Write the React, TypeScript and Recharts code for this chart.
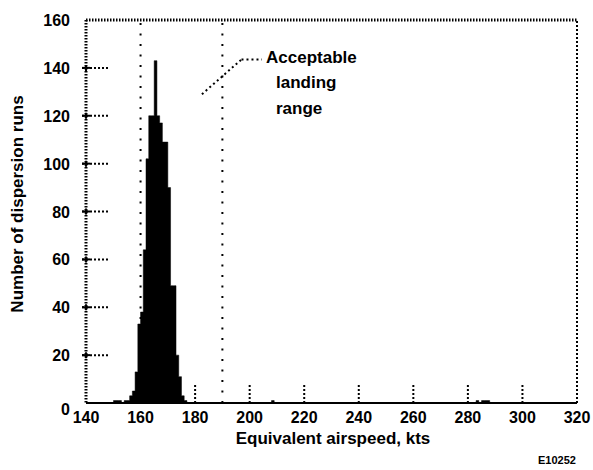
import React from 'react';
import { ComposedChart, Area, XAxis, YAxis, ReferenceLine } from 'recharts';

// histogram bins (1 kt wide, value = left edge) and run counts
const binStart = [
  150, 151, 152, 153, 154, 155, 156, 157, 158, 159, 160, 161, 162, 163, 164, 165,
  166, 167, 168, 169, 170, 171, 172, 173, 174, 175, 176, 177,
  208, 209,
  283, 284, 285, 286, 287, 288,
];
const runCounts = [
  1, 1, 1, 0, 1, 1, 3, 5, 13, 33, 38, 64, 102, 120, 120, 143,
  120, 117, 109, 109, 90, 49, 49, 20, 11, 3, 1, 0,
  1, 0,
  1, 0, 1, 1, 1, 0,
];

const xTicks = [140, 160, 180, 200, 220, 240, 260, 280, 300, 320];
const yTicks = [0, 20, 40, 60, 80, 100, 120, 140, 160];
const rangeLimits = [160, 190];
// leader line of the "Acceptable landing range" note, in chart units
const leaderPoints = [
  { x: 182.5, y: 129 },
  { x: 197, y: 143.5 },
  { x: 204.5, y: 143.5 },
];

const data = binStart.map((b, i) => ({ speed: b, runs: runCounts[i] }));

const FONT = '"Liberation Sans", Arial, sans-serif';

const XTick = (props: any) => {
  const { x, y, payload } = props;
  const v = payload.value;
  return (
    <g>
      {v !== 140 && v !== 320 && (
        <line x1={x} y1={y} x2={x} y2={y - 19} stroke="#000" strokeWidth={2} strokeDasharray="2 2" />
      )}
      <text x={x} y={y + 20} textAnchor="middle" fontSize={16} fontWeight="bold" fontFamily={FONT} fill="#000">
        {v}
      </text>
    </g>
  );
};

const YTick = (props: any) => {
  const { x, y, payload } = props;
  const v = payload.value;
  return (
    <g>
      {v !== 0 && v !== 160 && (
        <>
          <line x1={x - 4} y1={y} x2={x + 22} y2={y} stroke="#000" strokeWidth={2} strokeDasharray="2 2" />
          <line x1={x - 4} y1={y} x2={x + 4} y2={y} stroke="#000" strokeWidth={2} />
          <line x1={x} y1={y - 3} x2={x} y2={y + 3} stroke="#000" strokeWidth={2} />
        </>
      )}
      <text x={x - 16} y={y + (v === 0 ? 12 : 6)} textAnchor="end" fontSize={16} fontWeight="bold" fontFamily={FONT} fill="#000">
        {v}
      </text>
    </g>
  );
};

const noteStyle: React.CSSProperties = {
  position: 'absolute',
  fontFamily: FONT,
  fontWeight: 'bold',
  fontSize: 17,
  lineHeight: '20px',
  color: '#000',
  whiteSpace: 'nowrap',
};

export default function App() {
  return (
    <div style={{ position: 'absolute', left: 0, top: 0, width: 593, height: 470, background: '#fff' }}>
      <ComposedChart width={593} height={470} data={data} margin={{ top: 20, right: 16, left: 0, bottom: 0 }}>
        <XAxis
          dataKey="speed"
          type="number"
          domain={[140, 320]}
          ticks={xTicks}
          interval={0}
          height={67}
          tickSize={0}
          tickMargin={0}
          tickLine={false}
          axisLine={{ stroke: '#000', strokeWidth: 2 }}
          tick={<XTick />}
          allowDataOverflow
        />
        <YAxis
          type="number"
          domain={[0, 160]}
          ticks={yTicks}
          interval={0}
          width={86}
          tickSize={0}
          tickMargin={0}
          tickLine={false}
          axisLine={{ stroke: '#000', strokeWidth: 3, strokeDasharray: '1.5 1.5' }}
          tick={<YTick />}
        />
        <Area
          type="stepAfter"
          dataKey="runs"
          stroke="#000"
          strokeWidth={0.5}
          fill="#000"
          fillOpacity={1}
          isAnimationActive={false}
          dot={false}
          activeDot={false}
        />
        {rangeLimits.map((v) => (
          <ReferenceLine key={v} x={v} stroke="#000" strokeWidth={2} strokeDasharray="2 8.5" />
        ))}
        <ReferenceLine y={160} stroke="#000" strokeWidth={3} strokeDasharray="1.5 1.5" />
        <ReferenceLine x={320} stroke="#000" strokeWidth={2} strokeDasharray="2 2" />
        {leaderPoints.slice(1).map((p, i) => (
          <ReferenceLine
            key={i}
            segment={[leaderPoints[i], p]}
            stroke="#000"
            strokeWidth={2}
            strokeDasharray="2 3"
            ifOverflow="visible"
          />
        ))}
      </ComposedChart>
      <div style={{ ...noteStyle, left: 266, top: 48 }}>Acceptable</div>
      <div style={{ ...noteStyle, left: 276, top: 73 }}>landing</div>
      <div style={{ ...noteStyle, left: 276, top: 99 }}>range</div>
      <div style={{ ...noteStyle, left: 213, top: 429, width: 240, textAlign: 'center' }}>Equivalent airspeed, kts</div>
      <div
        style={{
          ...noteStyle,
          left: 18,
          top: 204,
          transform: 'translate(-50%, -50%) rotate(-90deg)',
        }}
      >
        Number of dispersion runs
      </div>
      <div style={{ ...noteStyle, fontSize: 11, lineHeight: '13px', left: 538, top: 454 }}>E10252</div>
    </div>
  );
}
